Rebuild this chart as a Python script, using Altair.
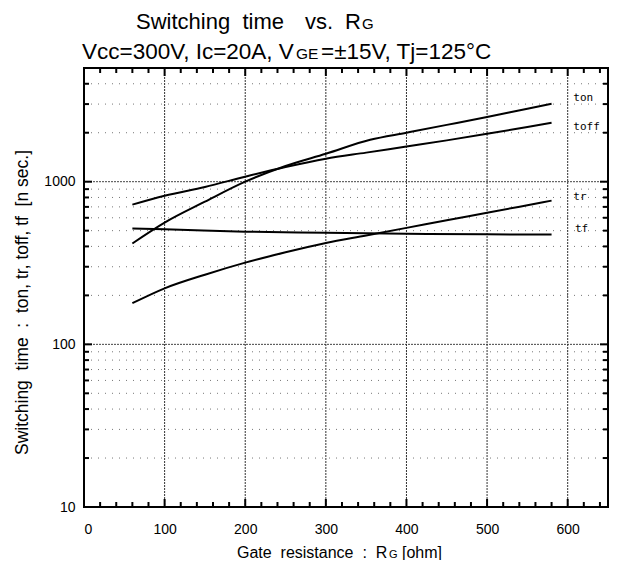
import altair as alt
import pandas as pd

# ---- data ----
rg_ton = [60, 100, 150, 200, 250, 300, 355, 400, 450, 500, 550, 580]
ton = [417, 560, 753, 1000, 1249, 1485, 1810, 2000, 2235, 2500, 2810, 3010]

rg_toff = [60, 100, 150, 200, 250, 300, 350, 400, 450, 500, 550, 580]
toff = [723, 820, 928, 1073, 1230, 1384, 1509, 1646, 1795, 1970, 2170, 2300]

rg_tr = [60, 100, 150, 200, 250, 300, 350, 400, 450, 500, 550, 580]
tr = [179, 221, 268, 318, 368, 420, 467, 520, 580, 644, 717, 765]

rg_tf = [60, 100, 200, 300, 400, 500, 580]
tf = [515, 510, 493, 485, 478, 475, 473]

series_names = ["ton", "toff", "tr", "tf"]
label_x = [607, 607, 607, 609]
label_y = [3270, 2170, 805, 512]

x_ticks_major = [0, 100, 200, 300, 400, 500, 600]
x_ticks_minor = [v for v in range(20, 650, 20) if v % 100 != 0]
y_ticks_major = [10, 100, 1000]
y_ticks_minor = [20, 30, 40, 50, 60, 70, 80, 90,
                 200, 300, 400, 500, 600, 700, 800, 900,
                 2000, 3000, 4000]
x_grid_major = [100, 200, 300, 400, 500, 600]
y_grid_major = [100, 1000]

W, H = 524, 439
FONT = "Liberation Sans"
SP = "\u00a0"

rows = []
for name, xs, ys in [("ton", rg_ton, ton), ("toff", rg_toff, toff),
                     ("tr", rg_tr, tr), ("tf", rg_tf, tf)]:
    for a, b in zip(xs, ys):
        rows.append({"series": name, "rg": a, "t": b})
curves = pd.DataFrame(rows)
labels = pd.DataFrame({"name": series_names, "rg": label_x, "t": label_y})

ytitle = ("Switching" + SP * 2 + "time" + SP * 2 + ":" + SP * 2 +
          "ton, tr, toff, tf" + SP * 2 + "[n sec.]")

xscale = alt.Scale(domain=[0, 650], nice=False, zero=False)
yscale = alt.Scale(type="log", domain=[10, 5000], nice=False)
xaxis = alt.Axis(values=x_ticks_major, ticks=False, domain=False, grid=False,
                 labelFont=FONT, labelFontSize=14, labelColor="black",
                 labelPadding=15, title=None)
yaxis = alt.Axis(values=y_ticks_major, format="d", ticks=False, domain=False,
                 grid=False, labelFont=FONT, labelFontSize=14,
                 labelColor="black", labelPadding=9,
                 title=ytitle,
                 titleFont=FONT, titleFontSize=17.5, titleFontWeight="normal",
                 titleColor="black", titleX=-57, titleY=234,
                 titleBaseline="alphabetic", titleAlign="center",
                 titleAngle=270)


def X(field):
    return alt.X(field, type="quantitative", scale=xscale, axis=xaxis)


def Y(field):
    return alt.Y(field, type="quantitative", scale=yscale, axis=yaxis)


ygrid_minor = alt.Chart(pd.DataFrame({"v": y_ticks_minor})).mark_rule(
    color="#777", strokeWidth=1, strokeDash=[1, 6]).encode(
    y=Y("v"), x=alt.value(0), x2=alt.value(W))
ygrid_major = alt.Chart(pd.DataFrame({"v": y_grid_major})).mark_rule(
    color="#444", strokeWidth=1, strokeDash=[2, 1]).encode(
    y=Y("v"), x=alt.value(0), x2=alt.value(W))
xgrid_major = alt.Chart(pd.DataFrame({"v": x_grid_major})).mark_rule(
    color="#333", strokeWidth=1, strokeDash=[2, 1]).encode(
    x=X("v"), y=alt.value(0), y2=alt.value(H))


def xt(vals, y0, y1):
    return alt.Chart(pd.DataFrame({"v": vals})).mark_rule(
        color="black", strokeWidth=2).encode(
        x=X("v"), y=alt.value(y0), y2=alt.value(y1))


def yt(vals, x0, x1):
    return alt.Chart(pd.DataFrame({"v": vals})).mark_rule(
        color="black", strokeWidth=2).encode(
        y=Y("v"), x=alt.value(x0), x2=alt.value(x1))


ticks = [
    xt(x_ticks_minor, H, H - 5), xt(x_ticks_major, H, H - 8),
    xt(x_ticks_minor, 0, 5), xt(x_ticks_major, 0, 8),
    yt(y_ticks_minor, 0, 5), yt(y_ticks_major, 0, 8),
    yt(y_ticks_minor, W, W - 5), yt(y_ticks_major, W, W - 8),
]

lines = alt.Chart(curves).mark_line(
    color="black", strokeWidth=2, interpolate="monotone").encode(
    x=X("rg"), y=Y("t"), detail="series:N")

lbl = alt.Chart(labels).mark_text(
    font="DejaVu Sans Mono", fontSize=11, align="left", baseline="middle",
    color="black").encode(x=X("rg"), y=Y("t"), text="name:N")


def txt(s, px, py, size, align="left"):
    return alt.Chart(pd.DataFrame({"s": [s]})).mark_text(
        font=FONT, fontSize=size, align=align, baseline="alphabetic",
        color="black").encode(x=alt.value(px), y=alt.value(py), text="s:N")


titles = [
    txt("Switching" + SP * 2 + "time", 52, -39, 22),
    txt("vs.", 221, -39, 22),
    txt("R", 261, -39, 22),
    txt("G", 278, -39, 15),
    txt("Vcc=300V, Ic=20A, V", -2, -9, 22.5),
    txt("GE", 212, -9, 15.5),
    txt("=\u00b115V, Tj=125\u00b0C", 237, -9, 22.5),
    txt("Gate" + SP * 2 + "resistance" + SP * 2 + ":" + SP * 2 + "R",
        153, 490, 16),
    txt("G", 305, 490, 11),
    txt("[ohm]", 318, 490, 16),
]

chart = alt.layer(
    ygrid_minor, ygrid_major, xgrid_major, *ticks, lines, lbl, *titles
).properties(
    width=W, height=H,
    autosize=alt.AutoSizeParams(type="none"),
    padding={"left": 76, "top": 60, "right": 1, "bottom": 53},
).configure_view(stroke="black", strokeWidth=2)

chart.save("out.html", embed_options={"renderer": "svg", "actions": False})
